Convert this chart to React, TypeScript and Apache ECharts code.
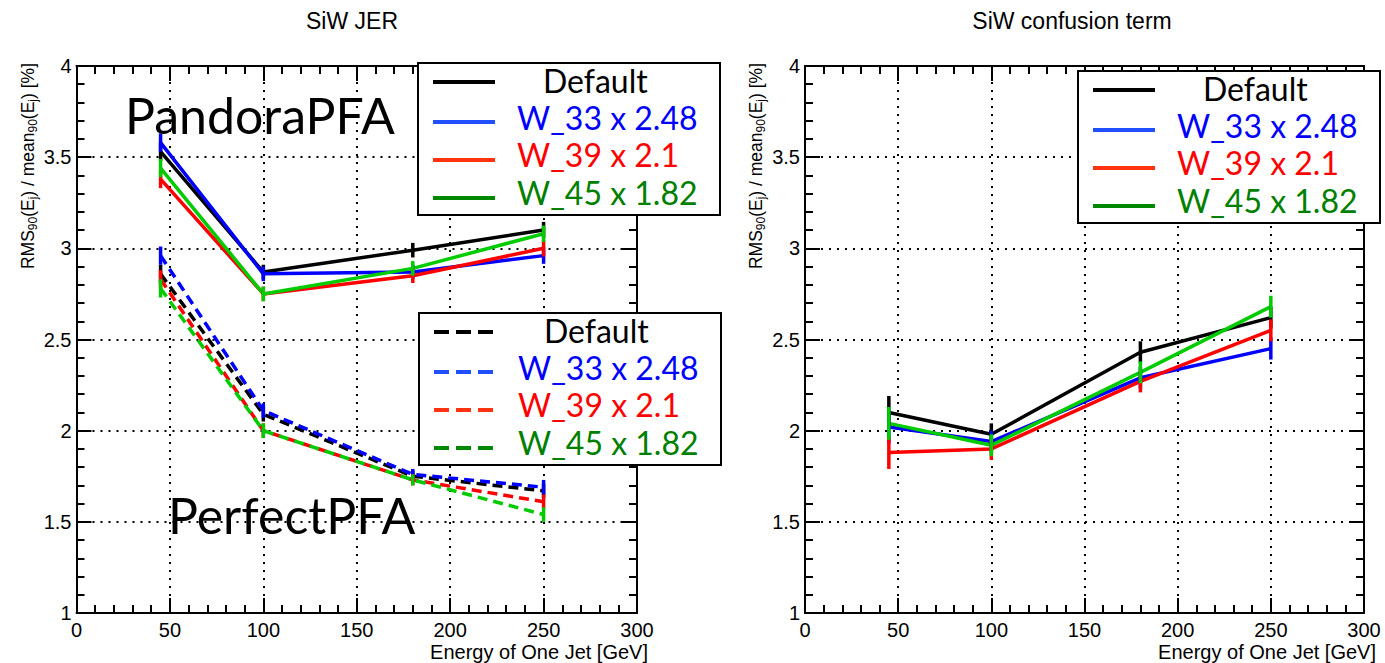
import React, { useEffect, useRef } from "react";
import * as echarts from "echarts";

// ---------- data ----------
const energies = [45, 100, 180, 250];
const seriesNames = ["Default", "W_33 x 2.48", "W_39 x 2.1", "W_45 x 1.82"];
const xTickValues = [0, 50, 100, 150, 200, 250, 300];
const yTickValues = [1, 1.5, 2, 2.5, 3, 3.5, 4];

// SiW JER, PandoraPFA (solid)
const pandoraDefault = [3.53, 2.87, 2.99, 3.1];
const pandoraW33 = [3.58, 2.86, 2.87, 2.96];
const pandoraW39 = [3.38, 2.75, 2.85, 3.0];
const pandoraW45 = [3.44, 2.75, 2.89, 3.08];
const pandoraErr = [0.05, 0.04, 0.04, 0.045];

// SiW JER, PerfectPFA (dashed)
const perfectDefault = [2.86, 2.09, 1.75, 1.67];
const perfectW33 = [2.96, 2.11, 1.76, 1.69];
const perfectW39 = [2.83, 2.0, 1.73, 1.61];
const perfectW45 = [2.78, 2.0, 1.73, 1.54];
const perfectErr = [0.05, 0.04, 0.03, 0.04];

// SiW confusion term
const confDefault = [2.1, 1.98, 2.43, 2.62];
const confW33 = [2.02, 1.94, 2.29, 2.45];
const confW39 = [1.88, 1.9, 2.27, 2.55];
const confW45 = [2.04, 1.92, 2.32, 2.68];
const confErr = [0.09, 0.06, 0.06, 0.06];

// ---------- styles ----------
const lineColors = ["#000000", "#0000ff", "#ff0000", "#00cc00"];
const legendLineColors = ["#000000", "#1f4fff", "#ff3311", "#008800"];
const textColors = ["#000000", "#0000ff", "#ff0000", "#008000"];
const AXIS_FONT = "Liberation Sans";
const LEG_FONT = "Lato";

const pandoraSets = [pandoraDefault, pandoraW33, pandoraW39, pandoraW45];
const perfectSets = [perfectDefault, perfectW33, perfectW39, perfectW45];
const confSets = [confDefault, confW33, confW39, confW45];

function lineSeries(axisIdx: number, values: number[], color: string, dashed: boolean) {
  return {
    type: "line",
    xAxisIndex: axisIdx,
    yAxisIndex: axisIdx,
    data: energies.map((e, i) => [e, values[i]]),
    symbol: "none",
    silent: true,
    lineStyle: { color, width: 3.5, type: dashed ? [10, 6] : "solid" },
    z: 3,
  };
}

function errSeries(axisIdx: number, values: number[], errs: number[], color: string) {
  return {
    type: "custom",
    xAxisIndex: axisIdx,
    yAxisIndex: axisIdx,
    silent: true,
    data: energies.map((e, i) => [e, values[i], errs[i]]),
    renderItem: (_p: any, api: any) => {
      const x = api.value(0);
      const y = api.value(1);
      const er = api.value(2);
      const a = api.coord([x, y - er]);
      const b = api.coord([x, y + er]);
      return {
        type: "line",
        shape: { x1: a[0], y1: a[1], x2: b[0], y2: b[1] },
        style: { stroke: color, lineWidth: 3.5 },
      };
    },
    z: 4,
  };
}

function xAxes(grid: number) {
  const common = {
    type: "value",
    gridIndex: grid,
    min: 0,
    max: 300,
    interval: 50,
    axisLine: { show: true, onZero: false, lineStyle: { color: "#000", width: 2 } },
    axisTick: { show: true, inside: true, length: 15, lineStyle: { color: "#000", width: 2 } },
    minorTick: { show: true, splitNumber: 5, length: 8, lineStyle: { color: "#000", width: 2 } },
  };
  return [
    {
      ...common,
      position: "bottom",
      axisLabel: {
        fontSize: 20,
        lineHeight: 20,
        fontFamily: AXIS_FONT,
        color: "#000",
        margin: 7,
        formatter: (v: number) => (xTickValues.includes(v) ? String(v) : ""),
      },
      splitLine: { show: true, lineStyle: { color: "#000", width: 2, type: [2, 6] } },
    },
    { ...common, position: "top", axisLabel: { show: false }, splitLine: { show: false } },
  ];
}

function yAxes(grid: number) {
  const common = {
    type: "value",
    gridIndex: grid,
    min: 1,
    max: 4,
    interval: 0.5,
    axisLine: { show: true, onZero: false, lineStyle: { color: "#000", width: 2 } },
    axisTick: { show: true, inside: true, length: 15, lineStyle: { color: "#000", width: 2 } },
    minorTick: { show: true, splitNumber: 5, length: 8, lineStyle: { color: "#000", width: 2 } },
  };
  return [
    {
      ...common,
      position: "left",
      axisLabel: {
        fontSize: 20,
        fontFamily: AXIS_FONT,
        color: "#000",
        margin: 5,
        formatter: (v: number) => (yTickValues.includes(v) ? String(v) : ""),
      },
      splitLine: { show: true, lineStyle: { color: "#000", width: 2, type: [2, 6] } },
    },
    { ...common, position: "right", axisLabel: { show: false }, splitLine: { show: false } },
  ];
}

const legendLineOffsets = [19, 59, 97, 135];
const legendTextOffsets = [17, 54, 91, 129];

function buildLegend(x0: number, y0: number, dashed: boolean) {
  const els: any[] = [
    {
      type: "rect",
      shape: { x: x0, y: y0, width: 302, height: 152 },
      style: { fill: "#fff", stroke: "#000", lineWidth: 2 },
      z: 100,
    },
  ];
  seriesNames.forEach((name, i) => {
    els.push({
      type: "line",
      shape: { x1: x0 + 15, y1: y0 + legendLineOffsets[i], x2: x0 + 77, y2: y0 + legendLineOffsets[i] },
      style: { stroke: legendLineColors[i], lineWidth: 4, lineDash: dashed ? [15, 7] : null },
      z: 101,
    });
    els.push({
      type: "text",
      x: x0 + (i === 0 ? 125 : 99),
      y: y0 + legendTextOffsets[i],
      style: {
        text: name,
        fill: textColors[i],
        fontSize: 32,
        fontFamily: LEG_FONT,
        lineHeight: 32,
        align: "left",
        verticalAlign: "middle",
      },
      z: 101,
    });
  });
  return els;
}

function yTitle(x: number) {
  return {
    type: "text",
    x,
    y: 63,
    rotation: Math.PI / 2,
    style: {
      text: "{n|RMS}{s|90}{n|(E}{s|j}{n|) / mean}{s|90}{n|(E}{s|j}{n|) [%]}",
      align: "right",
      verticalAlign: "middle",
      rich: {
        n: { fontSize: 17.5, fontFamily: AXIS_FONT, fill: "#000", lineHeight: 22 },
        s: { fontSize: 12, fontFamily: AXIS_FONT, fill: "#000", lineHeight: 12, verticalAlign: "bottom" },
      },
    },
    z: 100,
  };
}

function textEl(text: string, x: number, y: number, size: number, family: string, align: string) {
  return {
    type: "text",
    x,
    y,
    style: {
      text,
      fill: "#000",
      fontSize: size,
      lineHeight: size,
      fontFamily: family,
      align,
      verticalAlign: "middle",
    },
    z: 100,
  };
}

export default function App() {
  const ref = useRef<HTMLDivElement>(null);
  useEffect(() => {
    if (!ref.current) return;
    const chart = echarts.init(ref.current, undefined, { renderer: "svg" });
    const series: any[] = [];
    pandoraSets.forEach((s, i) => series.push(lineSeries(0, s, lineColors[i], false)));
    perfectSets.forEach((s, i) => series.push(lineSeries(0, s, lineColors[i], true)));
    pandoraSets.forEach((s, i) => series.push(errSeries(0, s, pandoraErr, lineColors[i])));
    perfectSets.forEach((s, i) => series.push(errSeries(0, s, perfectErr, lineColors[i])));
    // right panel uses axis index 2 (x: bottom of grid 1; y: left of grid 1)
    confSets.forEach((s, i) => series.push(lineSeries(2, s, lineColors[i], false)));
    confSets.forEach((s, i) => series.push(errSeries(2, s, confErr, lineColors[i])));

    chart.setOption({
      animation: false,
      backgroundColor: "#fff",
      grid: [
        { left: 76.5, top: 66, width: 560.5, height: 547 },
        { left: 805, top: 66, width: 559, height: 547 },
      ],
      xAxis: [...xAxes(0), ...xAxes(1)],
      yAxis: [...yAxes(0), ...yAxes(1)],
      series,
      graphic: {
        elements: [
          textEl("SiW JER", 352, 21, 23, AXIS_FONT, "center"),
          textEl("SiW confusion term", 1072, 21, 23, AXIS_FONT, "center"),
          textEl("Energy of One Jet [GeV]", 648, 652, 20, AXIS_FONT, "right"),
          textEl("Energy of One Jet [GeV]", 1376, 652, 20, AXIS_FONT, "right"),
          yTitle(28),
          yTitle(756),
          textEl("PandoraPFA", 125, 115, 50, LEG_FONT, "left"),
          textEl("PerfectPFA", 168, 515, 50, LEG_FONT, "left"),
          ...buildLegend(418, 63, false),
          ...buildLegend(419, 313, true),
          ...buildLegend(1078, 71, false),
        ],
      },
    });
    return () => chart.dispose();
  }, []);
  return (
    <div
      ref={ref}
      style={{ position: "absolute", left: 0, top: 0, width: 1385, height: 663, background: "#fff" }}
    />
  );
}
